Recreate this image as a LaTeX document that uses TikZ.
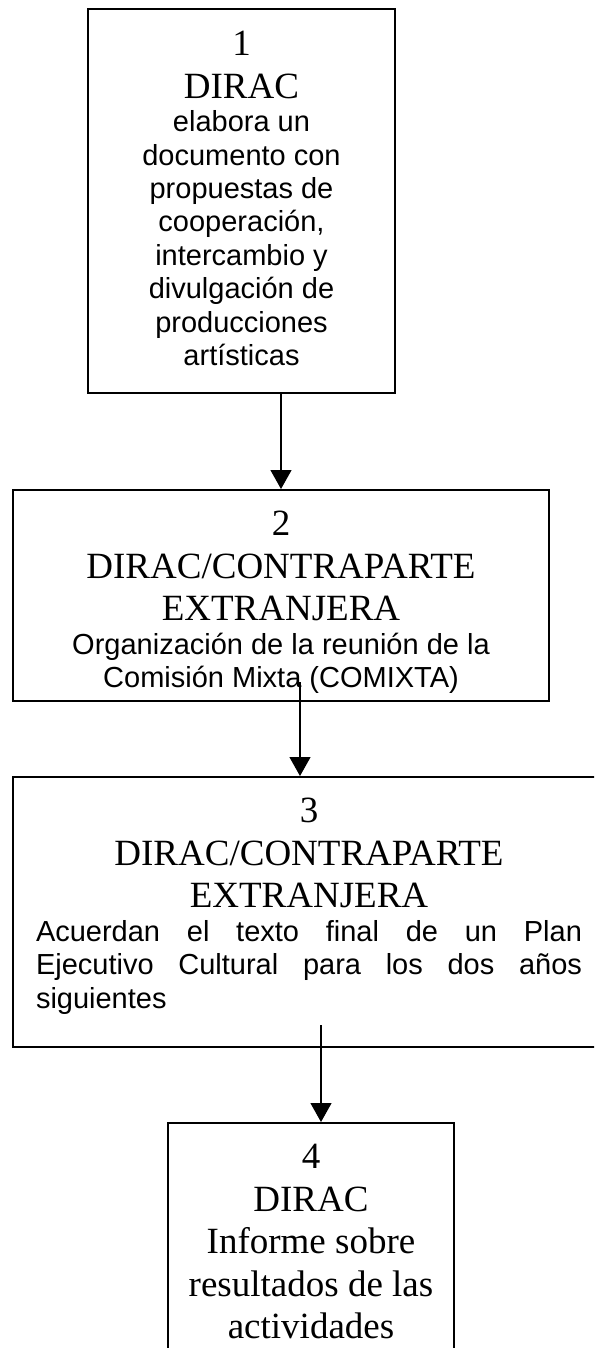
\documentclass[tikz,border=0pt]{standalone}
\usepackage{fontspec}
\newfontfamily\timesrm{Liberation Serif}
\newfontfamily\arialsf{Liberation Sans}
\newcommand{\boxhead}{\timesrm\fontsize{37}{42.5}\selectfont\spaceskip=0pt\xspaceskip=0pt}
\newcommand{\boxtext}{\arialsf\fontsize{29}{33.4}\selectfont\spaceskip=0pt\xspaceskip=0pt}
\usetikzlibrary{arrows.meta}
\begin{document}
\begin{tikzpicture}[x=1pt,y=-1pt,
	stepbox/.style={draw,line width=1.6pt,inner xsep=0pt,inner ysep=0pt,anchor=north,align=center},
	flow/.style={-{Triangle[length=19pt,width=21pt]},line width=1.2pt}]
	\path[use as bounding box,clip] (0,0) rectangle (594,1348);
	\node[stepbox,minimum width=307pt,text width=290pt,text height=47pt,text depth=337pt] (s1) at (241.5,8) {{\centering\boxhead 1\\DIRAC\par}{\centering\boxtext elabora un\\documento con\\propuestas de\\cooperación,\\intercambio y\\divulgación de\\producciones\\artísticas\par}};
	\node[stepbox,minimum width=536pt,text width=510pt,text height=46pt,text depth=165pt] (s2) at (281,489) {{\centering\boxhead 2\\DIRAC/CONTRAPARTE\\EXTRANJERA\par}{\centering\boxtext Organización de la reunión de la\\Comisión Mixta (COMIXTA)\par}};
	\node[stepbox,align=justify,minimum width=592pt,text width=546pt,text height=46pt,text depth=224pt] (s3) at (309,776) {{\centering\boxhead 3\\DIRAC/CONTRAPARTE\\EXTRANJERA\par}{\boxtext Acuerdan el texto final de un Plan\linebreak Ejecutivo Cultural para los dos años\linebreak siguientes\par}};
	\node[stepbox,minimum width=286pt,text width=270pt,text height=46pt,text depth=240pt] (s4) at (311,1122) {{\centering\boxhead 4\\DIRAC\\Informe sobre\\resultados de las\\actividades\par}};
	\coordinate (t2) at (300,682);
	\coordinate (t3) at (321,1025);
	\draw[flow] (s1.south -| s2.north)--(s2.north);
	\draw[flow] (t2)--(t2 |- s3.north);
	\draw[flow] (t3)--(t3 |- s4.north);
\end{tikzpicture}
\end{document}
